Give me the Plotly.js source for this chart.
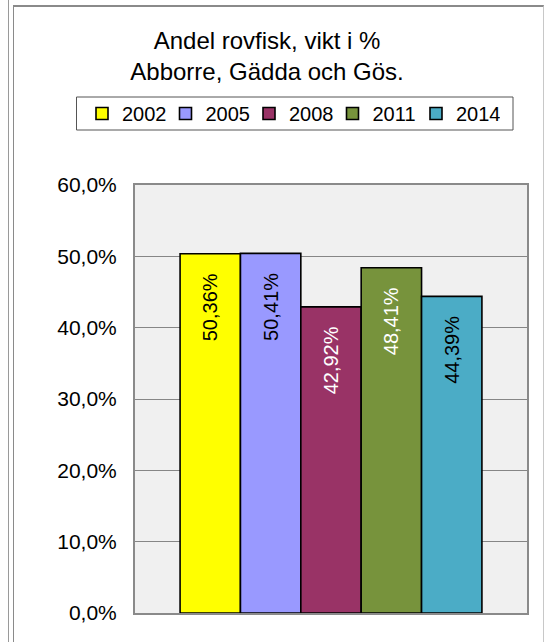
<!DOCTYPE html>
<html>
<head>
<meta charset="utf-8">
<script src="https://cdn.plot.ly/plotly-3.0.1.min.js"></script>
<style>
  html, body { margin: 0; padding: 0; background: #ffffff; overflow: hidden; }
  #wrap { position: relative; width: 545px; height: 642px; }
  #lineL { position: absolute; left: 8px; top: 0; width: 1px; height: 642px; background: #9a9a9a; }
  #frame { position: absolute; left: 13px; top: 5px; width: 529px; height: 700px;
           border-top: 2px solid #8a8a8a; border-left: 1px solid #8a8a8a; border-right: 1px solid #c8c8c8; }
  #chart { position: absolute; left: 0; top: 0; width: 545px; height: 642px; }
</style>
</head>
<body>
<div id="wrap">
  <div id="lineL"></div>
  <div id="frame"></div>
  <div id="chart"></div>
</div>
<script>
const categories = ['Andel rovfisk'];
const years = ['2002', '2005', '2008', '2011', '2014'];
const shares = [0.5036, 0.5041, 0.4292, 0.4841, 0.4439];
const barColors = ['#FFFF00', '#9999FF', '#993366', '#77933C', '#4BACC6'];
const labelColors = ['#000000', '#000000', '#ffffff', '#ffffff', '#000000'];
const yTicks = [0, 0.1, 0.2, 0.3, 0.4, 0.5, 0.6];

const font = 'Liberation Sans, Arial, sans-serif';
const NB = '\u00A0\u00A0\u00A0';

const traces = years.map((yr, i) => ({
  type: 'bar',
  name: yr,
  x: categories,
  y: [shares[i]],
  marker: { color: barColors[i], line: { color: '#000000', width: 1.6 } },
  texttemplate: '%{y:.2%}' + NB,
  textposition: 'inside',
  insidetextanchor: 'end',
  textangle: -90,
  constraintext: 'none',
  textfont: { family: font, size: 20, color: labelColors[i] },
  hoverinfo: 'skip'
}));

// plot area in pixels: left 135, top 185, width 392, height 428
const px = v => (v - 135) / 392;
const py = v => 1 + (185 - v) / 428;

const layout = {
  width: 545,
  height: 642,
  margin: { l: 135, r: 18, t: 185, b: 29 },
  paper_bgcolor: 'rgba(0,0,0,0)',
  plot_bgcolor: '#f0f0f0',
  separators: ', ',
  barmode: 'group',
  bargap: 0.23,
  bargroupgap: 0,
  font: { family: font, color: '#000000' },
  title: {
    text: 'Andel rovfisk, vikt i %<br>Abborre, Gädda och Gös.',
    font: { family: font, size: 24, color: '#000000' },
    xref: 'container', x: 0.49, xanchor: 'center',
    yref: 'container', y: 1 - 49 / 642, yanchor: 'top'
  },
  shapes: [{
    type: 'rect', xref: 'paper', yref: 'paper',
    x0: px(76.5), x1: px(513), y0: py(130), y1: py(97),
    line: { color: '#555555', width: 1 },
    fillcolor: '#ffffff',
    layer: 'above'
  }],
  showlegend: true,
  legend: {
    orientation: 'h',
    xref: 'paper', yref: 'paper',
    x: px(82), xanchor: 'left',
    y: py(94), yanchor: 'top',
    borderwidth: 0,
    bgcolor: 'rgba(0,0,0,0)',
    font: { family: font, size: 20, color: '#000000' },
    entrywidth: 38.5,
    entrywidthmode: 'pixels',
    traceorder: 'normal'
  },
  xaxis: {
    type: 'category',
    showticklabels: false,
    ticks: '',
    showgrid: false,
    showline: true, mirror: true, linecolor: '#8a8a8a', linewidth: 2,
    fixedrange: true
  },
  yaxis: {
    range: [0, 0.6],
    tickvals: yTicks,
    tickformat: '.1%',
    ticks: '',
    ticklabelstandoff: 12,
    tickfont: { family: font, size: 21, color: '#000000' },
    showgrid: true, gridcolor: '#868686', gridwidth: 1,
    zeroline: false,
    showline: true, mirror: true, linecolor: '#8a8a8a', linewidth: 2,
    fixedrange: true
  }
};

Plotly.newPlot('chart', traces, layout, { displayModeBar: false, staticPlot: true });
</script>
</body>
</html>
